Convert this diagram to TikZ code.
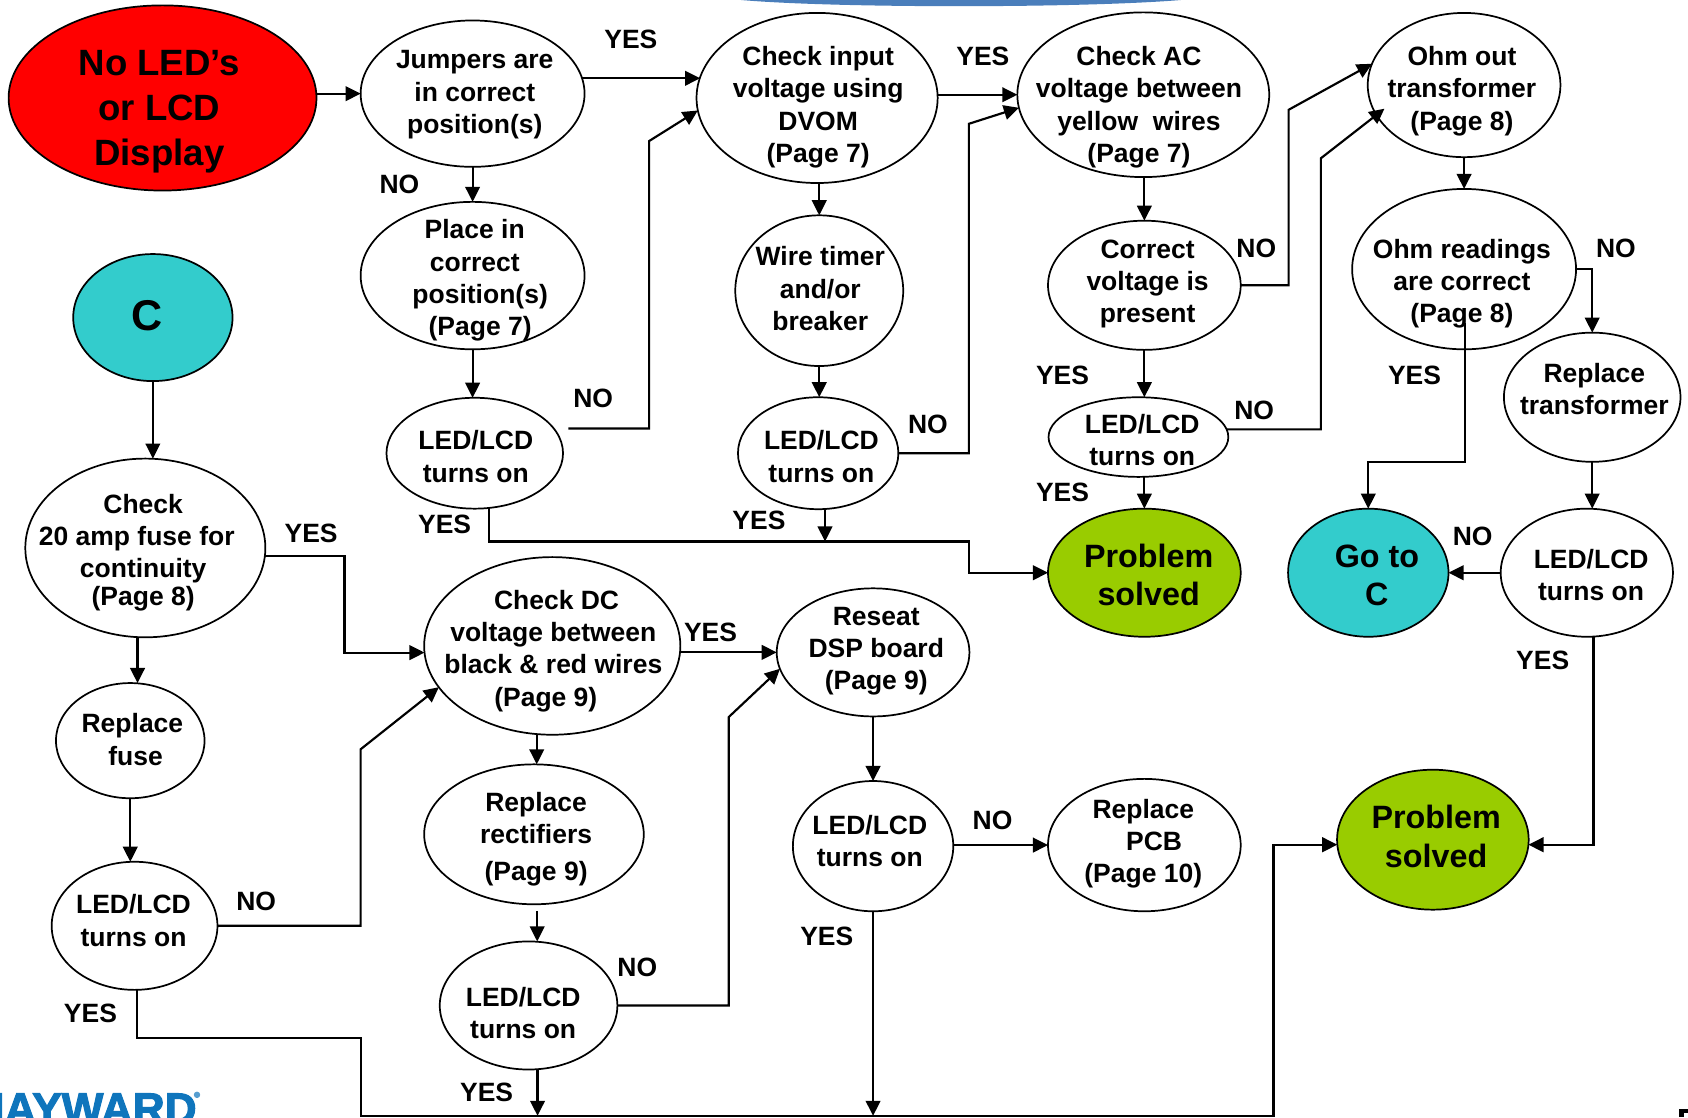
\documentclass[tikz,border=0pt]{standalone}
\usepackage{fontspec}
\setmainfont{Liberation Sans}
\newfontfamily\logofont[FakeBold=2.5]{Liberation Sans Bold}
\usetikzlibrary{shapes.geometric,arrows.meta,calc}
\definecolor{tealc}{HTML}{33CCCC}
\definecolor{greenc}{HTML}{99CC00}
\definecolor{logoblue}{HTML}{0F75BC}
\definecolor{barblue}{HTML}{4A7EBB}
\tikzset{
  oval/.style={ellipse,draw=black,line width=0.8pt,inner sep=0pt,outer sep=0pt,fill=white,text=black,
    font=\fontsize{12.3}{15}\selectfont\bfseries},
  bigtxt/.style={font=\fontsize{17}{21}\selectfont\bfseries},
  midtxt/.style={font=\fontsize{15}{18}\selectfont\bfseries},
  ctxt/.style={font=\fontsize{20}{24}\selectfont\bfseries},
  lbl/.style={inner sep=0pt,font=\fontsize{12.3}{15}\selectfont\bfseries},
  arr/.style={line width=1pt,-{Triangle[length=7pt,width=6.8pt]},line join=miter},
}
% [style]{name}{cx}{cy}{w}{h}{dx}{dy}{text}
\newcommand\ov[9][]{%
  \node[oval,#1,minimum width=#5*0.5pt,minimum height=#6*0.5pt] (#2) at (#3,#4)
    {\makebox[0pt]{\hspace*{\dimexpr #7pt\relax}\raisebox{\dimexpr -#8pt*1/2-0.36em\relax}[0pt][0pt]{%
      \begin{tabular}[c]{@{}c@{}}#9\end{tabular}}}};}
\newcommand\lb[3]{\node[lbl] (l#1) at (#2) {#3};}
\begin{document}
\begin{tikzpicture}[x=0.5pt,y=-0.5pt]
\clip[use as bounding box] (0,0) rectangle (1568,1037.7);
% decorative top bar, logo and page-number fragment
\fill[barblue] (678,-1) .. controls (760,8) and (1020,8) .. (1108,-1) -- cycle;
\node[anchor=base east,inner sep=0pt,text=logoblue,font=\fontsize{20.5}{24}\selectfont\logofont] (logo) at (183,1044) {HAYWARD};
\fill[logoblue!70] (183,1017) circle (3);
\fill[black] (1560,1030) rectangle (1568,1038);
\fill[white] (1564,1034) rectangle (1568,1038);

% ovals
\ov[fill=red,bigtxt]{red}{151}{91}{286}{172}{-3}{9}{No LED’s\\or LCD\\Display}
\ov{jump}{439}{87}{208}{136}{2}{-2}{Jumpers are\\in correct\\position(s)}
\ov{input}{759}{91}{224}{158}{1}{6}{Check input\\voltage using\\DVOM\\(Page 7)}
\ov{ac}{1062}{88}{234}{153}{-4}{9}{Check AC\\voltage between\\yellow\ \ wires\\(Page 7)}
\ov{ohm}{1360}{79}{179}{134}{-2}{3}{Ohm out\\transformer\\(Page 8)}
\ov{place}{439}{256}{208}{137}{7}{2}{\hspace*{-5pt}Place in\\\hspace*{-5pt}correct\\position(s)\\(Page 7)}
\ov{wiret}{761}{270}{156}{140}{1}{-2}{Wire timer\\and/or\\breaker}
\ov{corr}{1063}{265}{179}{120}{3}{-4}{Correct\\voltage is\\present}
\ov{read}{1360}{250}{208}{149}{-2}{11}{Ohm readings\\are correct\\(Page 8)}
\ov[fill=tealc,ctxt]{cc}{142}{295}{148}{118}{-5}{-2}{C}
\ov{led1}{441}{421}{164}{103}{1}{3}{LED/LCD\\turns on}
\ov{led2}{760}{421}{149}{104}{3}{3}{LED/LCD\\turns on}
\ov{led3}{1057.5}{406}{167}{74}{3.5}{3}{LED/LCD\\turns on}
\ov{rept}{1479}{369}{164}{120}{2}{-8}{Replace\\transformer}
\ov{chk}{135}{509}{223}{166}{-2}{2}{Check\\20 amp fuse for\hspace*{6pt}\\continuity\\[-2pt](Page 8)}
\ov[fill=greenc,midtxt]{sol1}{1063}{532}{179}{119}{4}{2}{Problem\\solved}
\ov[fill=tealc,midtxt]{goc}{1271}{532}{149}{119}{8}{2}{Go to\\C}
\ov{led4}{1474}{532}{160}{119}{4}{2}{LED/LCD\\turns on}
\ov{dc}{513}{600}{238}{165}{1}{2}{\hspace*{3pt}Check DC\\voltage between\\black \& red wires\\(Page 9)\hspace*{7pt}}
\ov{reseat}{811}{606}{179}{119}{3}{-4}{Reseat\\DSP board\\(Page 9)}
\ov{fuse}{121}{688}{138}{107}{2}{-1}{Replace\\\hspace*{3pt}fuse}
\ov{repr}{496}{775}{204}{130}{2}{2}{Replace\\rectifiers\\[2.5pt](Page 9)}
\ov{ledm}{811}{786}{149}{121}{-3}{-5}{LED/LCD\\turns on}
\ov{pcb}{1063}{785}{179}{123}{-1}{-4}{Replace\\\hspace*{10pt}PCB\\(Page 10)}
\ov[fill=greenc,midtxt]{sol2}{1331}{780}{178}{130}{3}{-3}{Problem\\solved}
\ov{ledl}{125}{860}{154}{119}{-1}{-5}{LED/LCD\\turns on}
\ov{ledb}{491}{934}{165}{119}{-5}{7}{LED/LCD\\turns on}

% free ends and shared rails
\coordinate (n1) at (528,398);
\coordinate (railA) at (900,503);
\coordinate (railB) at (335,1036.5);
\coordinate (n16) at (1286,101);
\coordinate (n19) at (1361,300);
\coordinate (nrep) at (499,846);

% connectors
\draw[arr] (red.east |- jump.west) -- (jump.west);
\draw[arr] (jump.8) -- (jump.8 -| input.170);
\draw[arr] (input.east |- ac.west) -- (ac.west);
\draw[arr] (jump.south) -- (place.north);
\draw[arr] (place.south) -- (place.south |- led1.north);
\draw[arr] (n1) -| (603,131) -- (input.186);
\draw[arr] (wiret.north |- input.south) -- (wiret.north);
\draw[arr] (wiret.south) -- (wiret.south |- led2.north);
\draw[arr] (led2.east) -| (900,115) -- (ac.186);
\draw[arr] (led1.285) |- (railA) |- (sol1.west);
\draw[arr] (led2.277) -- (led2.277 |- railA);
\draw[arr] (corr.north |- ac.south) -- (corr.north);
\draw[arr] (corr.south) -- (corr.south |- led3.north);
\draw[arr] (led3.south -| sol1.north) -- (sol1.north);
\draw[arr] (corr.east) -| (1197,102) -- (ohm.167);
\draw[arr] (led3.5) -| (1227,147) -- (n16);
\draw[arr] (ohm.south) -- (read.north);
\draw[arr] (read.east) -| (rept.north);
\draw[arr] (n19) |- (1272,429) -- (goc.north |- 1272,429) -- (goc.north);
\draw[arr] (rept.south) -- (rept.south |- led4.north);
\draw[arr] (led4.west) -- (goc.east);
\draw[arr] (led4.276) |- (sol2.-3);
\draw[arr] (cc.south) -- (cc.south |- chk.north);
\draw[arr] (chk.265) -- (chk.265 |- fuse.north);
\draw[arr] (fuse.south) -- (fuse.south |- ledl.north);
\draw[arr] (chk.356) -| (320,560) |- (dc.183);
\draw[arr] (ledl.east) -| (335,696) -- (dc.200);
\draw[arr] (dc.260) -- (dc.260 |- repr.north);
\draw[arr] (nrep) -- (nrep |- ledb.north);
\draw[arr] (ledb.east) -| (677,666) -- (reseat.190);
\draw[arr] (ledb.278) -- (ledb.278 |- railB);
\draw[arr] (dc.east |- reseat.west) -- (reseat.west);
\draw[arr] (reseat.south) -- (ledm.north);
\draw[arr] (pcb.west -| ledm.east) -- (pcb.west);
\draw[arr] (ledm.south) -- (ledm.south |- railB);
\draw[arr] (ledl.272) |- (335,964) -- (railB) -| (1183,900) |- (sol2.183);

% labels
\lb{a}{586,37}{YES}
\lb{b}{371,171}{NO}
\lb{c}{913,52}{YES}
\lb{d}{551,370}{NO}
\lb{e}{1167,231}{NO}
\lb{f}{1501,231}{NO}
\lb{g}{987,349}{YES}
\lb{h}{1314,349}{YES}
\lb{i}{1165,381}{NO}
\lb{j}{862,394}{NO}
\lb{k}{987,457}{YES}
\lb{m}{413,487}{YES}
\lb{n}{705,483}{YES}
\lb{o}{1368,498}{NO}
\lb{p}{289,495}{YES}
\lb{q}{660,587}{YES}
\lb{r}{1433,613}{YES}
\lb{s}{922,762}{NO}
\lb{t}{768,870}{YES}
\lb{u}{238,837}{NO}
\lb{v}{592,899}{NO}
\lb{w}{84,941}{YES}
\lb{x}{452,1015}{YES}
\end{tikzpicture}
\end{document}
